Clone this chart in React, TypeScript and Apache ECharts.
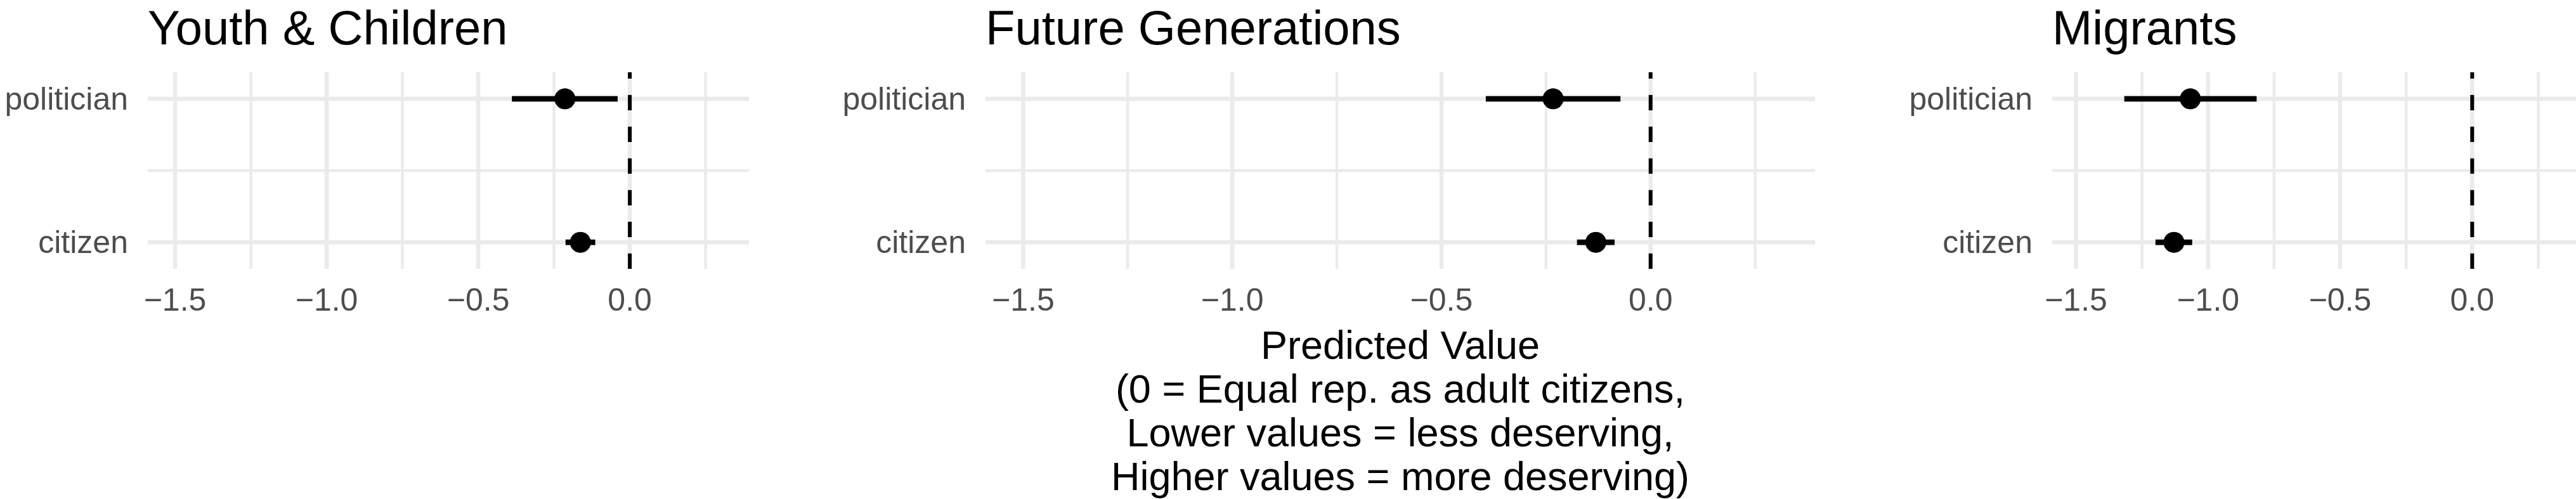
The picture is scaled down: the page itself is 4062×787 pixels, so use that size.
import { useEffect, useRef } from 'react'
import * as echarts from 'echarts'

// 面板标题与类别（y = 1 为 citizen，y = 2 为 politician）
const panelTitles = ['Youth & Children', 'Future Generations', 'Migrants']
const roles = ['citizen', 'politician']
const roleY = [1, 2]

// 点估计与区间 [citizen, politician]
const estYouth = [-0.163, -0.214]
const lowYouth = [-0.212, -0.389]
const highYouth = [-0.114, -0.040]

const estFuture = [-0.131, -0.233]
const lowFuture = [-0.176, -0.394]
const highFuture = [-0.086, -0.072]

const estMigrants = [-1.129, -1.067]
const lowMigrants = [-1.199, -1.317]
const highMigrants = [-1.060, -0.816]

// 刻度
const majorTicks = [-1.5, -1.0, -0.5, 0.0]
const minorTicks = [-1.25, -0.75, -0.25, 0.25]
const yMajor = [1, 2]
const yMinor = [1.5]
const refValue = 0

const axisTitle =
  'Predicted Value\n(0 = Equal rep. as adult citizens,\nLower values = less deserving,\nHigher values = more deserving)'

const FONT = "'Liberation Sans', Arial, Helvetica, sans-serif"
const GRID_COLOR = '#EBEBEB'
const X_MIN = -1.59
const X_MAX = 0.393
const Y_MIN = 0.815
const Y_MAX = 2.185

const panels = [
  { est: estYouth, low: lowYouth, high: highYouth, left: 233, width: 948 },
  { est: estFuture, low: lowFuture, high: highFuture, left: 1554, width: 1308 },
  { est: estMigrants, low: lowMigrants, high: highMigrants, left: 3236, width: 826 },
]

const fmtTick = (v: number) => (v < 0 ? '\u2212' : '') + Math.abs(v).toFixed(1)

export default function App() {
  const chartRef = useRef<HTMLDivElement>(null)

  useEffect(() => {
    if (!chartRef.current) return
    const chart = echarts.init(chartRef.current, undefined, { renderer: 'svg' })

    const series: any[] = []
    panels.forEach((p, i) => {
      const axes = { xAxisIndex: i, yAxisIndex: i }
      const plain = { type: 'line', symbol: 'none', silent: true, animation: false, ...axes }
      // 竖向网格线
      majorTicks.forEach((v) => series.push({ ...plain, z: 1, data: [[v, Y_MIN], [v, Y_MAX]], lineStyle: { color: GRID_COLOR, width: 6.6 } }))
      minorTicks.forEach((v) => series.push({ ...plain, z: 1, data: [[v, Y_MIN], [v, Y_MAX]], lineStyle: { color: GRID_COLOR, width: 4.5 } }))
      // 横向网格线
      yMajor.forEach((v) => series.push({ ...plain, z: 1, data: [[X_MIN, v], [X_MAX, v]], lineStyle: { color: GRID_COLOR, width: 6.6 } }))
      yMinor.forEach((v) => series.push({ ...plain, z: 1, data: [[X_MIN, v], [X_MAX, v]], lineStyle: { color: GRID_COLOR, width: 4.4 } }))
      // 参考虚线 x = 0
      series.push({ ...plain, z: 2, data: [[refValue, Y_MIN], [refValue, Y_MAX]], lineStyle: { color: '#000', width: 6, type: [24.3, 25.7] } })
      // 误差线
      roleY.forEach((y, j) => series.push({ ...plain, z: 3, data: [[p.low[j], y], [p.high[j], y]], lineStyle: { color: '#000', width: 8.6, cap: 'butt', opacity: 1 } }))
      // 点
      series.push({
        type: 'scatter', z: 4, silent: true, ...axes,
        symbol: 'circle', symbolSize: 33,
        itemStyle: { color: '#000', opacity: 1 },
        data: roleY.map((y, j) => [p.est[j], y]),
      })
    })

    const option: any = {
      animation: false,
      backgroundColor: '#fff',
      title: panels.map((p, i) => ({
        text: panelTitles[i],
        left: p.left,
        top: 5,
        padding: 0,
        textStyle: { fontSize: 76, fontWeight: 'normal', color: '#000', fontFamily: FONT },
      })),
      grid: panels.map((p) => ({
        left: p.left, width: p.width, top: 114, height: 310,
        containLabel: false, outerBoundsMode: 'none',
      })),
      xAxis: panels.map((_, i) => ({
        type: 'value', gridIndex: i, min: X_MIN, max: X_MAX,
        axisLine: { show: false }, axisTick: { show: false }, splitLine: { show: false },
        axisLabel: {
          customValues: majorTicks, formatter: fmtTick, margin: 24,
          fontSize: 50, color: '#4D4D4D', fontFamily: FONT,
        },
        ...(i === 1 ? {
          name: axisTitle, nameLocation: 'middle', nameGap: 85,
          nameTextStyle: { fontSize: 63, color: '#000', fontFamily: FONT, lineHeight: 69, align: 'center' },
        } : {}),
      })),
      yAxis: panels.map((_, i) => ({
        type: 'value', gridIndex: i, min: Y_MIN, max: Y_MAX,
        axisLine: { show: false }, axisTick: { show: false }, splitLine: { show: false },
        axisLabel: {
          customValues: roleY, formatter: (v: number) => roles[Math.round(v) - 1] ?? '',
          margin: 31, fontSize: 50, color: '#4D4D4D', fontFamily: FONT,
        },
      })),
      series,
    }

    chart.setOption(option)
    return () => chart.dispose()
  }, [])

  return (
    <div style={{ position: 'absolute', left: 0, top: 0, width: 4062, height: 787 }}>
      <div ref={chartRef} style={{ width: '100%', height: '100%' }} />
    </div>
  )
}
